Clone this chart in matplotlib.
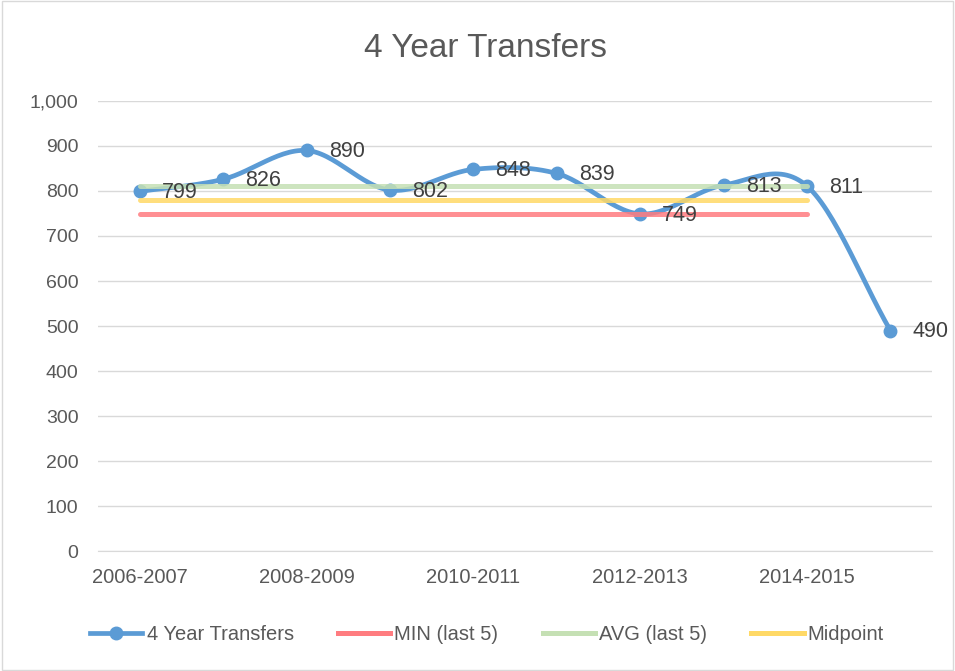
import numpy as np
import matplotlib
matplotlib.use("Agg")
import matplotlib.pyplot as plt
from matplotlib.lines import Line2D

plt.rcParams['font.family'] = ['Liberation Sans', 'DejaVu Sans']

# ---- data ----
years = ["2006-2007", "2007-2008", "2008-2009", "2009-2010", "2010-2011",
         "2011-2012", "2012-2013", "2013-2014", "2014-2015", "2015-2016"]
transfers = [799, 826, 890, 802, 848, 839, 749, 813, 811, 490]
min_last5 = [749] * 9
avg_last5 = [812] * 9
midpoint = [780] * 9

blue = "#5B9BD5"
red = "#FF7C80"
green = "#C5E0B4"
yellow = "#FFD966"
text_col = "#595959"


def smooth(xs, ys, n=30):
    # catmull-rom spline, similar to Excel smoothed line
    xs = np.asarray(xs, float)
    ys = np.asarray(ys, float)
    px = np.concatenate([[2 * xs[0] - xs[1]], xs, [2 * xs[-1] - xs[-2]]])
    py = np.concatenate([[2 * ys[0] - ys[1]], ys, [2 * ys[-1] - ys[-2]]])
    ox, oy = [], []
    t = np.linspace(0, 1, n)
    for i in range(1, len(px) - 2):
        for arr, out in ((px, ox), (py, oy)):
            p0, p1, p2, p3 = arr[i - 1], arr[i], arr[i + 1], arr[i + 2]
            out.extend(0.5 * ((2 * p1) + (-p0 + p2) * t
                              + (2 * p0 - 5 * p1 + 4 * p2 - p3) * t ** 2
                              + (-p0 + 3 * p1 - 3 * p2 + p3) * t ** 3))
    return np.array(ox), np.array(oy)


fig = plt.figure(figsize=(9.55, 6.71), dpi=100)
ax = fig.add_axes([0.1026, 0.1788, 0.8734, 0.6707])

x = np.arange(len(years))
sx, sy = smooth(x, transfers)
ax.plot(sx, sy, color=blue, lw=3.4, solid_capstyle='round', zorder=3)
ax.plot(x, transfers, 'o', color=blue, ms=9, zorder=3)

xr = np.arange(len(min_last5))
ax.plot(xr, min_last5, color=red, lw=3.6, solid_capstyle='round', alpha=0.85, zorder=4)
ax.plot(xr, avg_last5, color=green, lw=3.6, solid_capstyle='round', alpha=0.85, zorder=4)
ax.plot(xr, midpoint, color=yellow, lw=3.6, solid_capstyle='round', alpha=0.85, zorder=4)

for xi, v in zip(x, transfers):
    ax.annotate(f"{v}", (xi, v), xytext=(16, -1), textcoords='offset points',
                ha='left', va='center', fontsize=15.5, color="#404040", zorder=5)

ax.set_xlim(-0.5, len(years) - 0.5)
ax.set_ylim(0, 1000)
ax.set_yticks(range(0, 1001, 100))
ax.set_yticklabels([f"{v:,}" for v in range(0, 1001, 100)])
ax.set_xticks(x[::2])
ax.set_xticklabels(years[::2])
ax.tick_params(length=0, labelsize=14.5, colors=text_col, pad=12)
ax.tick_params(axis='y', labelsize=14, pad=14)
ax.grid(axis='y', color="#D9D9D9", lw=1)
ax.set_axisbelow(True)
for s in ['top', 'right', 'left']:
    ax.spines[s].set_visible(False)
ax.spines['bottom'].set_color("#D9D9D9")

fig.text(0.508, 0.928, "4 Year Transfers", ha='center', va='center',
         fontsize=24, color=text_col)

handles = [
    Line2D([], [], color=blue, lw=3.4, marker='o', ms=9),
    Line2D([], [], color=red, lw=3.6),
    Line2D([], [], color=green, lw=3.6),
    Line2D([], [], color=yellow, lw=3.6),
]
labels = ["4 Year Transfers", "MIN (last 5)", "AVG (last 5)", "Midpoint"]
fig.legend(handles, labels, loc='center', bbox_to_anchor=(0.51, 0.055), ncol=4,
           frameon=False, fontsize=14.5, labelcolor=text_col, handlelength=2.6,
           handletextpad=0.2, columnspacing=2.2)

fig.patches.append(plt.Rectangle((0.002, 0.002), 0.996, 0.996, transform=fig.transFigure,
                                 fill=False, edgecolor="#D9D9D9", lw=1))

fig.savefig("out.png", dpi=100)
